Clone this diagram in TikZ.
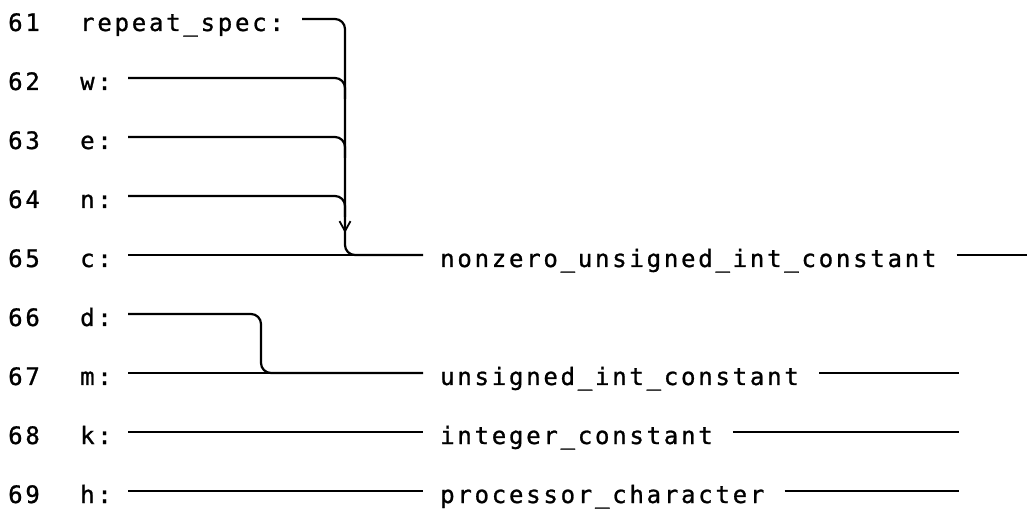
\documentclass[tikz,border=0pt]{standalone}
\usepackage{fontspec}
\usetikzlibrary{arrows.meta,calc}
\newfontfamily\codefont[LetterSpace=11.5,FakeBold=1]{DejaVu Sans Mono}
\begin{document}
\begin{tikzpicture}[x=1pt,y=-1pt,
  txt/.style={anchor=base west,inner sep=0pt,font=\codefont\fontsize{24}{24}\selectfont},
  wire/.style={line width=2.2pt,rounded corners=10pt},
  arr/.style={line width=2.2pt,-{Straight Barb[length=10pt,width=11pt,line width=1.8pt]}}]
\useasboundingbox (0,0) rectangle (1031,510);
% labels
\foreach \n/\lab/\i in {61/repeat\_spec:/0,62/w:/1,63/e:/2,64/n:/3,65/c:/4,66/d:/5,67/m:/6,68/k:/7,69/h:/8}{
  \node[txt] (num\n) at (8,{19+59*\i+12}) {\n};
  \node[txt] (lab\n) at (80,{19+59*\i+12}) {\lab};
}
% right texts
\node[txt] (r65) at (440,{19+59*4+12}) {nonzero\_unsigned\_int\_constant};
\node[txt] (r67) at (440,{19+59*6+12}) {unsigned\_int\_constant};
\node[txt] (r68) at (440,{19+59*7+12}) {integer\_constant};
\node[txt] (r69) at (440,{19+59*8+12}) {processor\_character};
% coordinates
\coordinate (s61) at (302,19);
\foreach \r/\i in {62/1,63/2,64/3,65/4,66/5,67/6,68/7,69/8}{
  \coordinate (s\r) at (128,{19+59*\i});
  \coordinate (e\r) at (423,{19+59*\i});
}
\coordinate (v2) at (345,255);
\coordinate (w2) at (261,373);
\coordinate (a1) at (345,190);
\coordinate (a2) at (345,233);
\coordinate (m62) at (345,99);
\coordinate (m63) at (345,158);
\coordinate (m64) at (345,217);
% left merges
\draw[wire] (s61) -| (v2) -- (e65);
\draw[wire] (s62) -| (m62);
\draw[wire] (s63) -| (m63);
\draw[wire] (s64) -| (m64);
\draw[arr] (a1) -- (a2);
\draw[wire] (s65) -- (e65);
\draw[wire] (s66) -| (w2) -- (e67);
\draw[wire] (s67) -- (e67);
\draw[wire] (s68) -- (e68);
\draw[wire] (s69) -- (e69);
% right lines
\coordinate (t65) at (1027,255);
\coordinate (t67) at (959,373);
\coordinate (t68) at (959,432);
\coordinate (t69) at (959,491);
\draw[wire] ([xshift=20pt,yshift=12pt]r65.base east) -- (t65);
\draw[wire] ([xshift=20pt,yshift=12pt]r67.base east) -- (t67);
\draw[wire] ([xshift=20pt,yshift=12pt]r68.base east) -- (t68);
\draw[wire] ([xshift=20pt,yshift=12pt]r69.base east) -- (t69);
\end{tikzpicture}
\end{document}
